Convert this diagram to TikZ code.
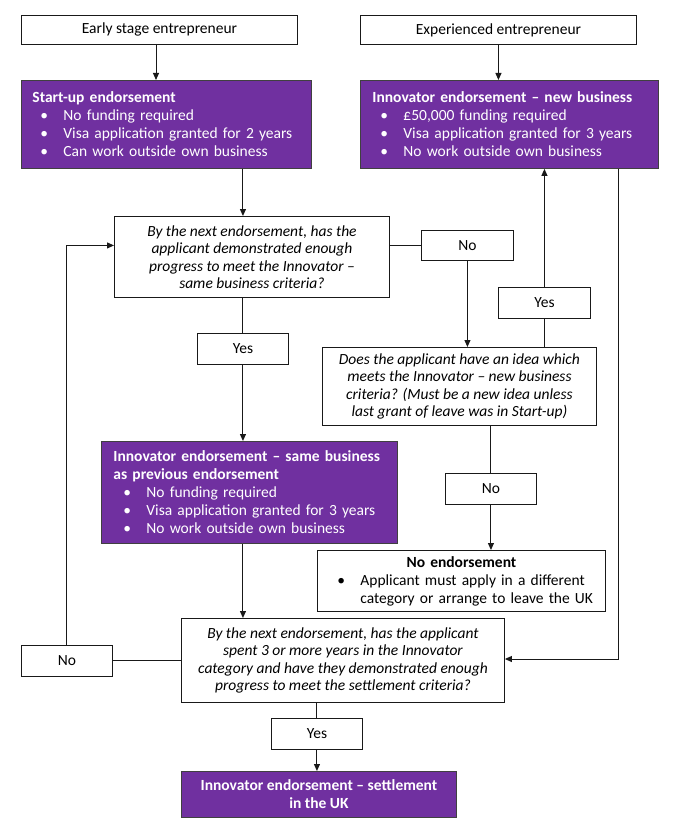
\documentclass[tikz,border=0pt]{standalone}
\usepackage{fontspec}
\setmainfont{Carlito}
\usetikzlibrary{arrows.meta}
\definecolor{ipurple}{RGB}{112,48,160}
\definecolor{lineclr}{RGB}{25,25,25}
\newcommand{\bitem}[2][8pt]{\mbox{\hspace*{#1}\makebox[23pt][l]{\textbullet}#2}}
\begin{document}
\begin{tikzpicture}[x=1pt,y=-1pt,
  every node/.style={font=\fontsize{15.5}{18}\selectfont},
  box/.style={draw=lineclr, line width=0.9pt, fill=white, anchor=north west, inner sep=0pt},
  qbox/.style={box, align=center, font=\fontsize{15.5}{17.5}\selectfont\itshape},
  pbox/.style={draw=black!75, line width=0.9pt, fill=ipurple, text=white, anchor=north west, inner ysep=0pt, align=left},
  conn/.style={draw=lineclr, line width=1pt},
  arr/.style={conn, -{Triangle[length=7pt,width=6pt]}}]
\fill[white] (0,0) rectangle (676,832);
\useasboundingbox (0,0) rectangle (676,832);

% top entry boxes
\node[box, minimum width=276pt, minimum height=29pt] (early) at (21,15) {Early stage entrepreneur};
\node[box, minimum width=276pt, minimum height=29pt] (exper) at (360,15) {Experienced entrepreneur};

% purple endorsements
\node[pbox, text width=268pt, inner xsep=11pt, minimum height=88pt] (startup) at (21,80)
  {\mbox{\bfseries Start-up endorsement}\\
   \bitem{No funding required}\\
   \bitem{Visa application granted for 2 years}\\
   \bitem{Can work outside own business}};
\node[pbox, text width=274pt, inner xsep=12pt, minimum height=88pt] (innov) at (360,80)
  {\mbox{\bfseries Innovator endorsement – new business}\\
   \bitem{£50,000 funding required}\\
   \bitem{Visa application granted for 3 years}\\
   \bitem{No work outside own business}};

% question 1
\node[qbox, minimum width=275pt, minimum height=81pt] (q1) at (114,216)
  {By the next endorsement, has the\\applicant demonstrated enough\\progress to meet the Innovator –\\same business criteria?};
\node[box, minimum width=92pt, minimum height=30pt] (no1) at (421,230) {No};
\node[box, minimum width=92pt, minimum height=31pt] (yes2) at (498,287) {Yes};
\node[box, minimum width=91pt, minimum height=31pt] (yes1) at (197,333) {Yes};

% question 2
\node[qbox, minimum width=274pt, minimum height=78pt] (q2) at (322,347)
  {Does the applicant have an idea which\\meets the Innovator – new business\\criteria? (Must be a new idea unless\\last grant of leave was in Start-up)};

\node[pbox, text width=272pt, inner xsep=12pt, minimum height=102pt] (same) at (101,441)
  {\mbox{\bfseries Innovator endorsement – same business}\\
   \mbox{\bfseries as previous endorsement}\\
   \bitem[10pt]{No funding required}\\
   \bitem[10pt]{Visa application granted for 3 years}\\
   \bitem[10pt]{No work outside own business}};
\node[box, minimum width=91pt, minimum height=31pt] (no2) at (445,473) {No};
\node[box, text width=268pt, inner xsep=10pt, minimum height=61pt, align=left] (noend) at (317,550)
  {\makebox[268pt][c]{\bfseries No endorsement}\\
   \bitem[10pt]{Applicant must apply in a different}\\
   \mbox{\hspace*{33pt}category or arrange to leave the UK}};

% question 3
\node[qbox, minimum width=323pt, minimum height=84pt] (q3) at (181,618)
  {By the next endorsement, has the applicant\\spent 3 or more years in the Innovator\\category and have they demonstrated enough\\progress to meet the settlement criteria?};
\node[box, minimum width=91pt, minimum height=31pt] (no3) at (21,645) {No};
\node[box, minimum width=91pt, minimum height=31pt] (yes3) at (271,718) {Yes};
\node[pbox, minimum width=275pt, minimum height=46pt, align=center, inner xsep=0pt] (settle) at (181,771)
  {\bfseries Innovator endorsement – settlement\\\bfseries in the UK};

\coordinate (rr) at (618,659);
\coordinate (ea) at (156,44);

% connectors
\draw[arr] (ea) -- (startup.north -| ea);
\draw[arr] (exper.south) -- (innov.north -| exper.south);
\draw[arr] (startup.south -| yes1) -- (q1.north -| yes1);
\draw[conn] (q1.south -| yes1) -- (yes1.north);
\draw[arr] (yes1.south) -- (same.north -| yes1);
\draw[conn] (q1.east |- no1) -- (no1.west);
\draw[arr] (no1.south) -- (q2.north -| no1);
\draw[conn] (q2.north -| yes2) -- (yes2.south);
\draw[arr] (yes2.north) -- (innov.south -| yes2);
\draw[arr] (innov.south -| rr) -- (rr) -- (q3.east |- rr);
\draw[conn] (q2.south -| no2) -- (no2.north);
\draw[arr] (no2.south) -- (noend.north -| no2);
\draw[arr] (same.south -| yes1) -- (q3.north -| yes1);
\draw[conn] (q3.west |- no3) -- (no3.east);
\draw[arr] (no3.north) |- (q1.west |- no1);
\draw[conn] (q3.south -| yes3) -- (yes3.north);
\draw[arr] (yes3.south) -- (settle.north -| yes3);
\end{tikzpicture}
\end{document}
